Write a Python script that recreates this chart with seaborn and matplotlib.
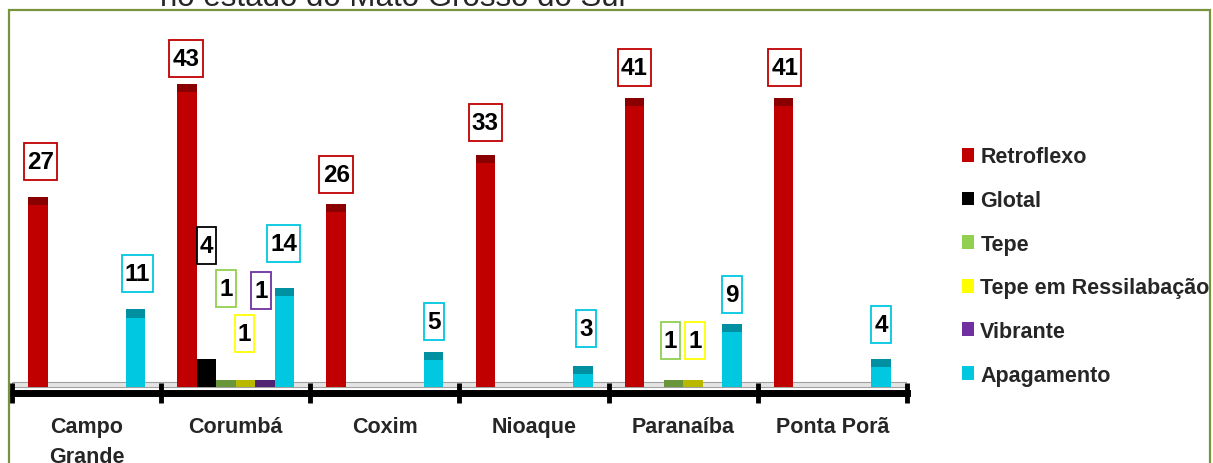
import pandas as pd
import matplotlib.pyplot as plt
import matplotlib.colors as mcolors
from matplotlib.patches import Patch, Rectangle
from matplotlib.path import Path
import seaborn as sns

cities = ["Campo\nGrande", "Corumbá", "Coxim", "Nioaque", "Paranaíba", "Ponta Porã"]
series = ["Retroflexo", "Glotal", "Tepe", "Tepe em Ressilabação", "Vibrante", "Apagamento"]

retroflexo = [27, 43, 26, 33, 41, 41]
glotal = [0, 4, 0, 0, 0, 0]
tepe = [0, 1, 0, 0, 1, 0]
tepe_ressil = [0, 1, 0, 0, 1, 0]
vibrante = [0, 1, 0, 0, 0, 0]
apagamento = [11, 14, 5, 3, 9, 4]

colors = ["#C00000", "#000000", "#92D050", "#FFFF00", "#7030A0", "#00C8E0"]

# label box offsets (pixels) from the top of each bar
label_offsets = {
    (0, 0): (3, 35), (0, 5): (2, 36),
    (1, 0): (-1, 26), (1, 1): (0, 113), (1, 2): (0, 91), (1, 3): (-1, 46),
    (1, 4): (-4, 89), (1, 5): (-1, 45),
    (2, 0): (0, 29), (2, 5): (0, 30),
    (3, 0): (0, 32), (3, 5): (3, 37),
    (4, 0): (0, 31), (4, 2): (-3, 39), (4, 3): (2, 39), (4, 5): (0, 29),
    (5, 0): (1, 31), (5, 5): (0, 34),
}

values = [retroflexo, glotal, tepe, tepe_ressil, vibrante, apagamento]
rows = []
for s, vals in zip(series, values):
    for c, v in zip(cities, vals):
        rows.append({"cidade": c, "variante": s, "n": v})
df = pd.DataFrame(rows)


def tall_box(x0, y0, width, height, mutation_size):
    # narrow side padding, more room above and below
    px = 0.13 * mutation_size
    py = 0.29 * mutation_size
    x1, y1 = x0 + width + px, y0 + height + py
    x0, y0 = x0 - px, y0 - py
    return Path([(x0, y0), (x1, y0), (x1, y1), (x0, y1), (x0, y0)], closed=True)


sns.set_style("white")
plt.rcParams["font.family"] = ["Liberation Sans", "DejaVu Sans"]

fig = plt.figure(figsize=(12.13, 4.64), dpi=100)
ax = fig.add_axes([12 / 1213, 0.1519, (907 - 12) / 1213, 0.9224 - 0.1519])

sns.barplot(
    data=df, x="cidade", y="n", hue="variante",
    order=cities, hue_order=series,
    palette=dict(zip(series, colors)),
    width=0.785, gap=0, dodge=True, saturation=1,
    linewidth=0, legend=False, ax=ax
)

# darker top strip on every bar
for cont in ax.containers:
    for bar in cont:
        h = bar.get_height()
        if h <= 0:
            continue
        fc = mcolors.to_rgb(bar.get_facecolor())
        dark = tuple(ch * 0.72 for ch in fc)
        cap = min(1.15, h)
        ax.add_patch(Rectangle((bar.get_x(), h - cap), bar.get_width(), cap,
                               facecolor=dark, edgecolor="none", zorder=bar.get_zorder() + 0.1))

# floor band
ax.axhspan(0, 0.7, facecolor="#e4e4e4", edgecolor="#a0a0a0", lw=0.8, zorder=0)

# value boxes
for si, cont in enumerate(ax.containers):
    for ci, bar in enumerate(cont):
        v = values[si][ci]
        if v <= 0:
            continue
        dx, dy = label_offsets.get((ci, si), (0, 30))
        ax.annotate(
            str(v),
            xy=(bar.get_x() + bar.get_width() / 2, v),
            xytext=(dx * 0.72, dy * 0.72), textcoords="offset points",
            ha="center", va="center", fontsize=17.5, weight="bold", color="black",
            bbox=dict(boxstyle=tall_box, facecolor="white",
                      edgecolor=colors[si], lw=1.3),
            zorder=5
        )

ax.set_xlim(-0.5, len(cities) - 0.5)
ax.set_ylim(-0.8, 50)
ax.set_xlabel("")
ax.set_ylabel("")
ax.set_yticks([])
for side in ["top", "right", "left"]:
    ax.spines[side].set_visible(False)
ax.spines["bottom"].set_linewidth(5)
ax.spines["bottom"].set_color("black")

ax.set_xticks([i - 0.5 for i in range(len(cities) + 1)])
ax.set_xticklabels([])
ax.set_xticks(range(len(cities)), minor=True)
ax.set_xticklabels(cities, minor=True, fontsize=15.5, weight="bold", linespacing=1.55)
ax.tick_params(axis="x", which="major", bottom=True, direction="inout",
               length=15, width=3.5, color="black")
ax.tick_params(axis="x", which="minor", bottom=True, length=0, pad=17)

handles = [Patch(facecolor=c, edgecolor="none") for c in colors]
fig.legend(
    handles, series, loc="center left",
    bbox_to_anchor=(962 / 1213, 1 - 267 / 464),
    frameon=False, borderpad=0, borderaxespad=0,
    handlelength=0.55, handleheight=0.6, handletextpad=0.3,
    labelspacing=1.05, prop={"size": 15.5, "weight": "bold"}
)

fig.text(160 / 1213, 1 - 6 / 464, "no estado do Mato Grosso do Sul",
         fontsize=22.5, ha="left", va="baseline")

fig.patches.append(Rectangle((8.5 / 1213, -0.05), (1210 - 8.5) / 1213, 1.05 - 10.5 / 464,
                             transform=fig.transFigure, fill=False,
                             edgecolor="#77933C", lw=1.6, zorder=10))

fig.savefig("out.png", dpi=100)
